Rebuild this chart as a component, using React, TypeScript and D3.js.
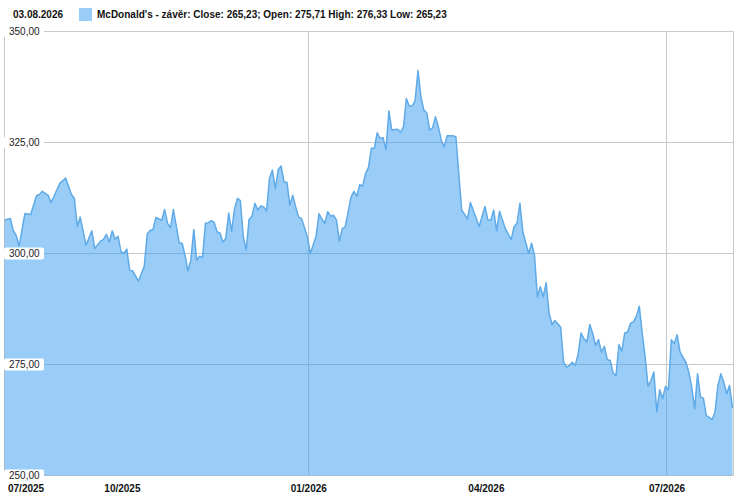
import React from "react";
import * as d3 from "d3";

// Trading-session index (0 = first session of the window) and closing price
const sessions: number[] = [
  0, 1, 2, 3, 4, 5, 7, 9, 11, 12,
  13, 15, 16, 17, 19, 21, 23, 24, 25, 26,
  28, 30, 31, 33, 34, 35, 36, 37, 38, 39,
  40, 41, 42, 43, 44, 46, 48, 49, 50, 51,
  52, 54, 55, 56, 57, 58, 60, 61, 62, 63,
  64, 65, 66, 67, 68, 69, 70, 71, 72, 73,
  74, 75, 76, 77, 78, 79, 80, 81, 82, 83,
  84, 85, 86, 87, 88, 89, 90, 91, 92, 93,
  94, 95, 96, 97, 98, 99, 100, 101, 102, 104,
  105, 106, 107, 108, 109, 110, 111, 112, 113, 114,
  115, 116, 117, 119, 120, 121, 122, 123, 124, 125,
  126, 127, 128, 129, 130, 131, 132, 133, 135, 136,
  137, 138, 139, 140, 141, 142, 143, 144, 145, 146,
  147, 148, 149, 150, 151, 152, 154, 155, 157, 158,
  159, 160, 163, 165, 166, 167, 168, 169, 170, 172,
  174, 175, 176, 177, 178, 180, 181, 182, 183, 184,
  185, 186, 187, 188, 189, 190, 191, 192, 193, 194,
  195, 196, 197, 198, 199, 200, 201, 202, 203, 204,
  205, 206, 207, 208, 209, 210, 211, 212, 213, 214,
  215, 216, 217, 218, 219, 220, 221, 222, 223, 224,
  225, 226, 227, 228, 229, 230, 231, 232, 234, 235,
  236, 237, 238, 239, 240, 241, 242, 243, 244, 245,
  246, 247, 248, 249, 250,
];

const closes: number[] = [
  307.5, 307.7, 307.9, 305.2, 304.1, 301.6, 309.0, 308.8, 313.0, 313.3,
  314.0, 313.1, 311.5, 312.9, 315.8, 317.0, 313.3, 312.4, 306.1, 308.2,
  301.9, 305.1, 301.1, 302.8, 303.2, 304.3, 302.6, 305.1, 303.2, 303.9,
  300.4, 300.0, 301.0, 296.2, 296.1, 293.8, 297.1, 304.4, 305.2, 305.4,
  308.1, 307.5, 309.9, 306.8, 305.8, 309.9, 302.4, 302.3, 299.6, 296.1,
  298.5, 305.4, 298.5, 299.4, 299.1, 306.8, 306.9, 307.4, 307.0, 304.9,
  304.6, 302.6, 303.4, 309.1, 305.0, 310.1, 312.4, 311.9, 303.8, 300.8,
  307.7, 308.4, 311.3, 309.8, 310.7, 310.5, 309.6, 316.9, 318.8, 314.6,
  318.9, 319.7, 316.1, 316.0, 310.9, 313.1, 310.5, 308.2, 307.9, 303.8,
  300.0, 301.9, 303.9, 309.0, 307.7, 306.8, 309.4, 308.4, 308.6, 307.5,
  302.8, 305.6, 306.0, 312.7, 314.0, 312.9, 315.5, 315.2, 318.0, 319.4,
  323.7, 323.7, 327.2, 325.9, 326.1, 323.4, 332.1, 327.8, 328.0, 327.3,
  328.5, 334.9, 333.2, 333.2, 334.4, 341.2, 335.3, 332.3, 331.7, 327.8,
  328.3, 330.8, 328.5, 325.5, 324.0, 326.5, 326.5, 326.3, 309.8, 308.8,
  307.8, 311.5, 306.1, 310.6, 307.5, 307.5, 309.8, 305.1, 309.5, 305.6,
  303.1, 306.1, 306.8, 311.3, 304.9, 300.0, 302.3, 299.6, 290.2, 292.5,
  290.2, 293.4, 286.6, 284.0, 284.9, 284.2, 283.4, 275.5, 274.4, 274.8,
  275.5, 274.8, 277.4, 282.1, 280.8, 280.1, 284.0, 282.0, 279.3, 280.6,
  277.8, 279.1, 276.1, 275.9, 273.1, 272.5, 279.5, 278.0, 282.1, 282.3,
  284.3, 284.6, 285.9, 288.1, 282.0, 276.7, 270.1, 271.4, 273.3, 264.3,
  269.3, 267.3, 270.1, 269.3, 280.6, 279.7, 281.7, 277.8, 275.5, 273.3,
  269.9, 265.0, 272.9, 267.7, 267.4, 263.5, 263.1, 262.6, 264.3, 270.3,
  272.9, 271.0, 268.4, 270.3, 265.23,
];

// First session of each labelled month
const tickSessions: number[] = [0, 41, 105, 166, 228];
const tickLabels: string[] = ["07/2025", "10/2025", "01/2026", "04/2026", "07/2026"];
const tickGrid: boolean[] = [false, false, true, false, true];

const yTicks: number[] = [350, 325, 300, 275, 250];

const headerDate = "03.08.2026";
const legendText =
  "McDonald's - závěr: Close: 265,23; Open: 275,71 High: 276,33 Low: 265,23";

const W = 738;
const H = 496;
const FONT = "'Liberation Sans', Arial, sans-serif";

export default function App() {
  const left = 4.5;
  const right = 733.5;
  const top = 31.5;
  const bottom = 475.5;

  const x = d3.scaleLinear().domain([0, 250]).range([left, right - 1]);
  const y = d3.scaleLinear().domain([250, 350]).range([bottom, top]);

  const data = sessions.map((s, i) => ({ s, v: closes[i] }));

  const area = d3
    .area<{ s: number; v: number }>()
    .x((d) => x(d.s))
    .y0(y(250))
    .y1((d) => y(d.v));
  const line = d3
    .line<{ s: number; v: number }>()
    .x((d) => x(d.s))
    .y((d) => y(d.v));

  const fmt = (v: number) => v.toFixed(2).replace(".", ",");
  const snap = (v: number) => Math.round(v - 0.5) + 0.5;

  return (
    <svg
      width={W}
      height={H}
      style={{ position: "absolute", left: 0, top: 0, background: "#fff" }}
      fontFamily={FONT}
    >
      {/* header */}
      <text x={13} y={18} fontSize={10} fontWeight="bold" fill="#111">
        {headerDate}
      </text>
      <rect x={79} y={8} width={13} height={13} fill="#99CCF6" />
      <text x={97} y={18} fontSize={10} fontWeight="bold" fill="#111">
        {legendText}
      </text>

      {/* horizontal grid */}
      {yTicks.map((t) => (
        <line
          key={"h" + t}
          x1={left}
          x2={right}
          y1={snap(y(t))}
          y2={snap(y(t))}
          stroke="#c8c8c8"
          strokeWidth={1}
        />
      ))}
      {/* vertical grid */}
      {tickSessions.map((s, i) =>
        tickGrid[i] ? (
          <line
            key={"v" + s}
            x1={snap(x(s - 0.5))}
            x2={snap(x(s - 0.5))}
            y1={top}
            y2={bottom}
            stroke="#c8c8c8"
            strokeWidth={1}
          />
        ) : null
      )}
      <line x1={left} x2={left} y1={top} y2={bottom} stroke="#c8c8c8" />
      <line x1={right} x2={right} y1={top} y2={bottom} stroke="#c8c8c8" />

      {/* area + line */}
      <path d={area(data) || ""} fill="rgb(51,153,238)" fillOpacity={0.5} />
      <path
        d={line(data) || ""}
        fill="none"
        stroke="#5FAAE8"
        strokeWidth={1.5}
        strokeLinejoin="round"
      />

      {/* y labels */}
      {yTicks.map((t) => (
        <g key={"yl" + t}>
          <rect
            x={4}
            y={snap(y(t)) - 6}
            width={40}
            height={12}
            rx={2}
            fill="#fff"
          />
          <text
            x={9}
            y={snap(y(t))}
            dy="0.35em"
            fontSize={10}
            fill="#222"
          >
            {fmt(t)}
          </text>
        </g>
      ))}

      {/* x labels */}
      {tickSessions.map((s, i) => (
        <text
          key={"xl" + s}
          x={i === 0 ? 8 : x(s - 0.5)}
          y={492}
          fontSize={10}
          fontWeight="bold"
          fill="#111"
          textAnchor={i === 0 ? "start" : "middle"}
        >
          {tickLabels[i]}
        </text>
      ))}
    </svg>
  );
}
